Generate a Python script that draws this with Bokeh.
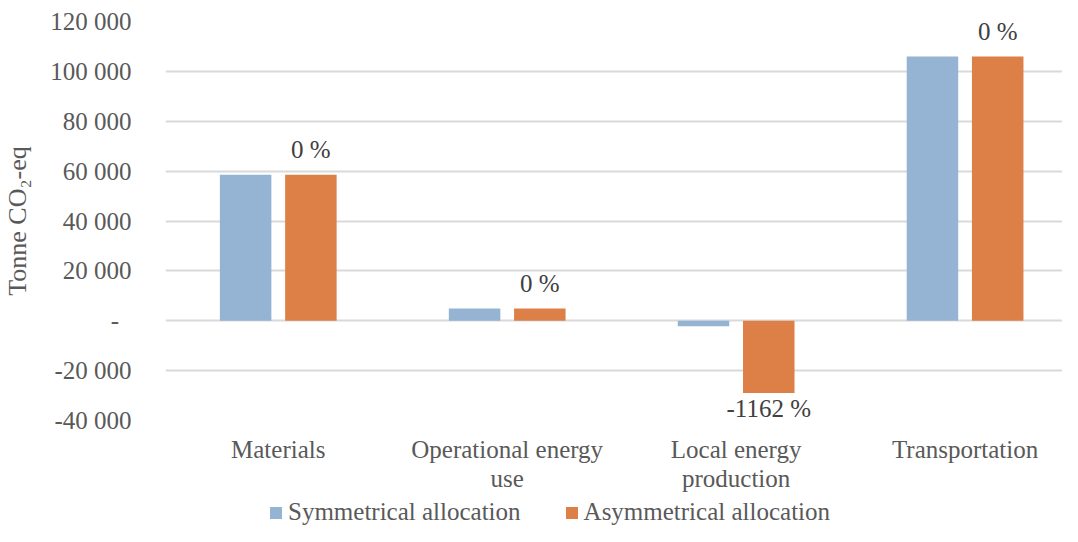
from bokeh.plotting import figure
from bokeh.layouts import column
from bokeh.models import ColumnDataSource, FixedTicker, Legend, LegendItem, Range1d
from bokeh.core.properties import value
from bokeh.embed import file_html
from bokeh.resources import INLINE

categories = ["Materials", "Operational energy\nuse", "Local energy\nproduction", "Transportation"]
series_names = ["Symmetrical allocation", "Asymmetrical allocation"]
symmetrical = [58500, 4900, -2200, 106000]
asymmetrical = [58500, 4900, -29000, 106000]
change_labels = ["0 %", "0 %", "-1162 %", "0 %"]
y_ticks = [-40000, -20000, 0, 20000, 40000, 60000, 80000, 100000, 120000]
y_tick_labels = ["-40 000", "-20 000", "-  ", "20 000", "40 000", "60 000", "80 000", "100 000", "120 000"]

FONT = "Liberation Serif"
BLUE = "#95B4D3"
ORANGE = "#DD8047"
GRID = "#D9D9D9"
TXT = "#595959"

idx = list(range(1, len(categories) + 1))
src = ColumnDataSource(dict(
    x=idx,
    xs=[i - 0.1425 for i in idx],
    xa=[i + 0.1425 for i in idx],
    sym=symmetrical,
    asym=asymmetrical,
    lab=change_labels,
    yoff=[-25 if v >= 0 else 15 for v in asymmetrical],
))

p = figure(width=1062, height=496, output_backend="svg", toolbar_location=None,
           x_range=Range1d(0.5075, 4.4255), y_range=Range1d(-40000, 120000),
           min_border_left=155, min_border_right=0, min_border_top=21,
           min_border_bottom=76)
p.outline_line_color = None
p.background_fill_color = "white"
p.border_fill_color = "white"

p.vbar(x="xs", top="sym", bottom=0, width=0.225, source=src,
       fill_color=BLUE, line_color=None)
p.vbar(x="xa", top="asym", bottom=0, width=0.225, source=src,
       fill_color=ORANGE, line_color=None)

p.text(x="xa", y="asym", text="lab", source=src, y_offset="yoff",
       text_align="center", text_baseline="middle",
       text_font=value(FONT), text_font_size="25px", text_color="#404040")

# x axis
p.xaxis.ticker = FixedTicker(ticks=idx)
p.xaxis.major_label_overrides = {i: c for i, c in zip(idx, categories)}
p.xaxis.axis_line_color = None
p.xaxis.major_tick_line_color = None
p.xaxis.minor_tick_line_color = None
p.xaxis.major_label_standoff = 9
p.xaxis.major_label_text_font = FONT
p.xaxis.major_label_text_font_size = "25px"
p.xaxis.major_label_text_line_height = 1.08
p.xaxis.major_label_text_color = TXT
p.xgrid.grid_line_color = None

# y axis
p.yaxis.ticker = FixedTicker(ticks=y_ticks)
p.yaxis.major_label_overrides = {t: l for t, l in zip(y_ticks, y_tick_labels)}
p.yaxis.axis_line_color = None
p.yaxis.major_tick_line_color = None
p.yaxis.minor_tick_line_color = None
p.yaxis.major_label_standoff = 28
p.yaxis.major_label_text_font = FONT
p.yaxis.major_label_text_font_size = "25px"
p.yaxis.major_label_text_color = TXT
p.yaxis.axis_label = "Tonne CO\u2082-eq"
p.yaxis.axis_label_text_font = FONT
p.yaxis.axis_label_text_font_size = "26px"
p.yaxis.axis_label_text_font_style = "normal"
p.yaxis.axis_label_text_color = TXT
p.yaxis.axis_label_standoff = 15
p.ygrid.grid_line_color = GRID
p.ygrid.grid_line_width = 2

# legend strip (swatch renderers sit outside the visible range)
lf = figure(width=1062, height=30, output_backend="svg", toolbar_location=None,
            x_range=Range1d(0, 1), y_range=Range1d(0, 1),
            min_border_left=0, min_border_right=0, min_border_top=0, min_border_bottom=0)
lf.outline_line_color = None
lf.axis.visible = False
lf.grid.visible = False
swatch = ColumnDataSource(dict(x=[-5], top=[-5]))
ls = lf.vbar(x="x", top="top", width=0.1, source=swatch, fill_color=BLUE, line_color=None)
la = lf.vbar(x="x", top="top", width=0.1, source=swatch, fill_color=ORANGE, line_color=None)
legend = Legend(items=[LegendItem(label=series_names[0], renderers=[ls]),
                       LegendItem(label=series_names[1], renderers=[la])],
                orientation="horizontal", location=(103, 0),
                glyph_width=15, glyph_height=15, label_standoff=5, spacing=43,
                padding=0, margin=0, border_line_color=None,
                label_text_font=FONT, label_text_font_size="25px",
                label_text_color=TXT, background_fill_alpha=0)
lf.add_layout(legend)

layout = column(p, lf, spacing=0)
open("out.html", "w").write(file_html(layout, INLINE))
